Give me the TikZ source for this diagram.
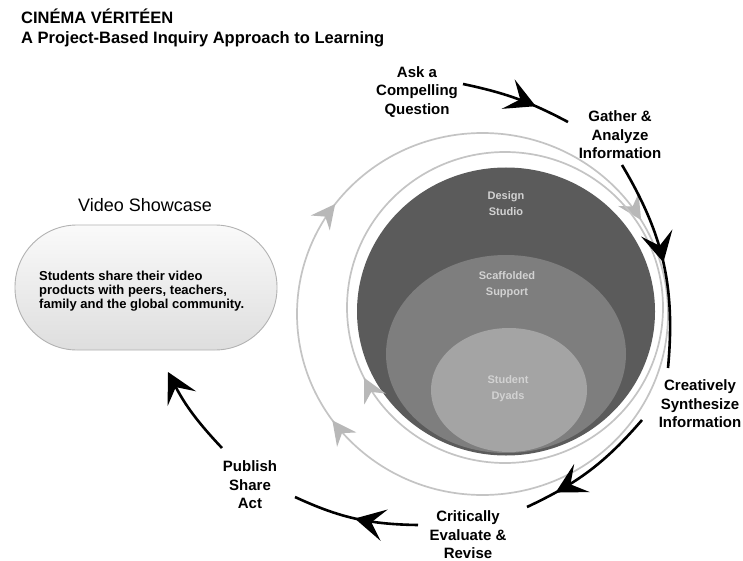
\documentclass[tikz,border=0pt]{standalone}
\usepackage{fontspec}
\setmainfont{Liberation Sans}
\usetikzlibrary{arrows.meta,decorations.markings}
\definecolor{dk}{HTML}{5B5B5B}
\definecolor{md}{HTML}{7E7E7E}
\definecolor{lt}{HTML}{A4A4A4}
\definecolor{ring}{HTML}{C4C4C4}
\definecolor{ghd}{HTML}{B8B8B8}
\definecolor{inl}{HTML}{D2D2D2}
\tikzset{
  bhead/.tip={Stealth[length=30pt,width=32pt,inset=13pt]},
  ghead/.tip={Stealth[length=24pt,width=24pt,inset=8pt]},
  lbl/.style={font=\fontsize{15}{18.5}\selectfont\bfseries, align=center, inner sep=0pt},
  inlbl/.style={font=\fontsize{11}{16}\selectfont\bfseries, align=center, text=inl, inner sep=0pt},
  ttl/.style={font=\fontsize{16.5}{20}\selectfont\bfseries, anchor=base west, inner sep=0pt},
  blk/.style={line width=2.6pt, draw=black, postaction={decorate},
    decoration={markings, mark=at position #1 with {\arrow{bhead}}}},
  ringline/.style={draw=ring, line width=1.7pt},
  showcase/.style={draw=gray!60, line width=0.9pt, rounded corners=62pt,
    minimum width=262pt, minimum height=125pt, top color=gray!4, bottom color=gray!26}
}
\begin{document}
\begin{tikzpicture}[x=1pt,y=-1pt]
\clip (0,0) rectangle (743,561);
\fill[white] (0,0) rectangle (743,561);

% titles
\node[ttl] (title1) at (21,24) {CINÉMA VÉRITÉEN};
\node[ttl] (title2) at (21,44) {A Project-Based Inquiry Approach to Learning};

% video showcase
\node[font=\fontsize{18}{20}\selectfont, inner sep=0pt] (vstitle) at (145,205) {Video Showcase};
\node[showcase] (vs) at (146,287.5) {};
\node[font=\fontsize{13}{14}\selectfont\bfseries, align=left, anchor=west, inner sep=0pt] (vstext) at (39,291)
  {Students share their video\\products with peers, teachers,\\family and the global community.};

% nested circles
\fill[dk] (506,311.5) ellipse[x radius=149, y radius=144];
\fill[md] (506,354) ellipse[x radius=120, y radius=99];
\fill[lt] (509,390) ellipse[x radius=78, y radius=62];
\node[inlbl] (design) at (506,204) {Design\\Studio};
\node[inlbl] (scaff) at (507,285) {Scaffolded\\Support};
\node[inlbl] (dyads) at (508,389) {Student\\Dyads};

% gray rings with arrowheads
\draw[ringline, postaction={decorate}, decoration={markings,
   mark=at position 0.401 with {\arrow[ghd]{ghead}},
   mark=at position 0.603 with {\arrow[ghd]{ghead}},
   mark=at position 0.914 with {\arrow[ghd]{ghead}}}]
   (482.5,314) ellipse[x radius=185.5, y radius=181];
\draw[ringline, postaction={decorate}, decoration={markings,
   mark=at position 0.426 with {\arrow[ghd]{ghead}}}]
   (505,307.5) ellipse[x radius=158, y radius=155.5];

% cycle labels
\node[lbl] (ask) at (417,92) {Ask a\\Compelling\\Question};
\node[lbl] (gather) at (620,135) {Gather \&\\Analyze\\Information};
\node[lbl] (synth) at (700,404) {Creatively\\Synthesize\\Information};
\node[lbl] (crit) at (468,535) {Critically\\Evaluate \&\\Revise};
\node[lbl] (pub) at (250,485) {Publish\\Share\\Act};

% connector end points
\coordinate (a1s) at (463,84);  \coordinate (a1e) at (568,122);
\coordinate (a2s) at (622,165); \coordinate (a2e) at (668,368);
\coordinate (a3s) at (642,420); \coordinate (a3e) at (527,507);
\coordinate (a4s) at (418,525); \coordinate (a4e) at (295,497);
\coordinate (a5s) at (222,448); \coordinate (a5e) at (168,372);

% black cycle arrows
\draw[blk=0.68] (a1s) to[bend left=8] (a1e);
\draw[blk=0.5] (a2s) to[bend left=18] (a2e);
\draw[blk=0.78] (a3s) to[bend left=12] (a3e);
\draw[blk=0.5] (a4s) to[bend left=12] (a4e);
\draw[line width=2.6pt, -{bhead}] (a5s) to[bend left=8] (a5e);
\end{tikzpicture}
\end{document}
